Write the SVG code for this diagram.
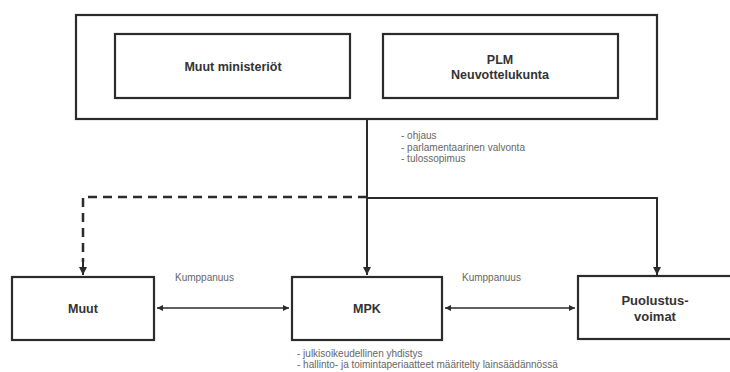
<svg xmlns="http://www.w3.org/2000/svg" width="730" height="372" viewBox="0 0 730 372">
<style>
.box{fill:#fff;stroke:#2b2b2b;stroke-width:2.2}
.lbl{font-family:"Liberation Sans",Arial,sans-serif;font-size:12.5px;font-weight:bold;fill:#333;text-anchor:middle}
.big{font-family:"Liberation Sans",Arial,sans-serif;font-size:13px;font-weight:bold;fill:#333;text-anchor:middle}
.sm{font-family:"Liberation Sans",Arial,sans-serif;font-size:10px;fill:#666}
.ln{fill:none;stroke:#2b2b2b;stroke-width:2}
.dash{fill:none;stroke:#2b2b2b;stroke-width:2.5;stroke-dasharray:9,6}
.thin{fill:none;stroke:#2b2b2b;stroke-width:1.5}
</style>
<defs>
<marker id="ah" viewBox="0 0 10 10" refX="10" refY="5" markerWidth="4" markerHeight="4" orient="auto-start-reverse">
<path d="M0,0L10,5L0,10z" fill="#2b2b2b"/>
</marker>
</defs>
<rect width="730" height="372" fill="#fff"/>
<g id="connectors">
<path class="ln" d="M367,119V198M367,198V275" marker-end="url(#ah)"/>
<path class="ln" d="M367,198H657V275" marker-end="url(#ah)"/>
<path class="dash" d="M367,197H83V262"/>
<path class="ln" d="M83,262V275" marker-end="url(#ah)"/>
<path class="thin" d="M157,308H289" marker-start="url(#ah)" marker-end="url(#ah)"/>
<path class="thin" d="M445,308H575" marker-start="url(#ah)" marker-end="url(#ah)"/>
<text class="sm" x="175" y="281">Kumppanuus</text>
<text class="sm" x="462" y="281">Kumppanuus</text>
<text class="sm" x="401" y="139">- ohjaus</text>
<text class="sm" x="401" y="150.5">- parlamentaarinen valvonta</text>
<text class="sm" x="401" y="162">- tulossopimus</text>
<text class="sm" x="297" y="357">- julkisoikeudellinen yhdistys</text>
<text class="sm" x="297" y="368">- hallinto- ja toimintaperiaatteet määritelty lainsäädännössä</text>
</g>
<g id="outer">
<rect class="box" x="76" y="15" width="581" height="104"/>
</g>
<g id="muut-ministeriot">
<rect class="box" x="115" y="34" width="235" height="64"/>
<text class="lbl" x="233" y="71">Muut ministeriöt</text>
</g>
<g id="plm">
<rect class="box" x="383" y="34" width="235" height="64"/>
<text class="lbl" x="500" y="64">PLM</text>
<text class="lbl" x="500" y="79">Neuvottelukunta</text>
</g>
<g id="muut">
<rect class="box" x="12" y="277" width="142" height="63"/>
<text class="lbl" x="83" y="313">Muut</text>
</g>
<g id="mpk">
<rect class="box" x="292" y="277" width="150" height="63"/>
<text class="lbl" x="367" y="313">MPK</text>
</g>
<g id="puolustusvoimat">
<rect class="box" x="578" y="276" width="160" height="63"/>
<text class="big" x="655" y="305">Puolustus-</text>
<text class="big" x="655" y="321">voimat</text>
</g>
</svg>
